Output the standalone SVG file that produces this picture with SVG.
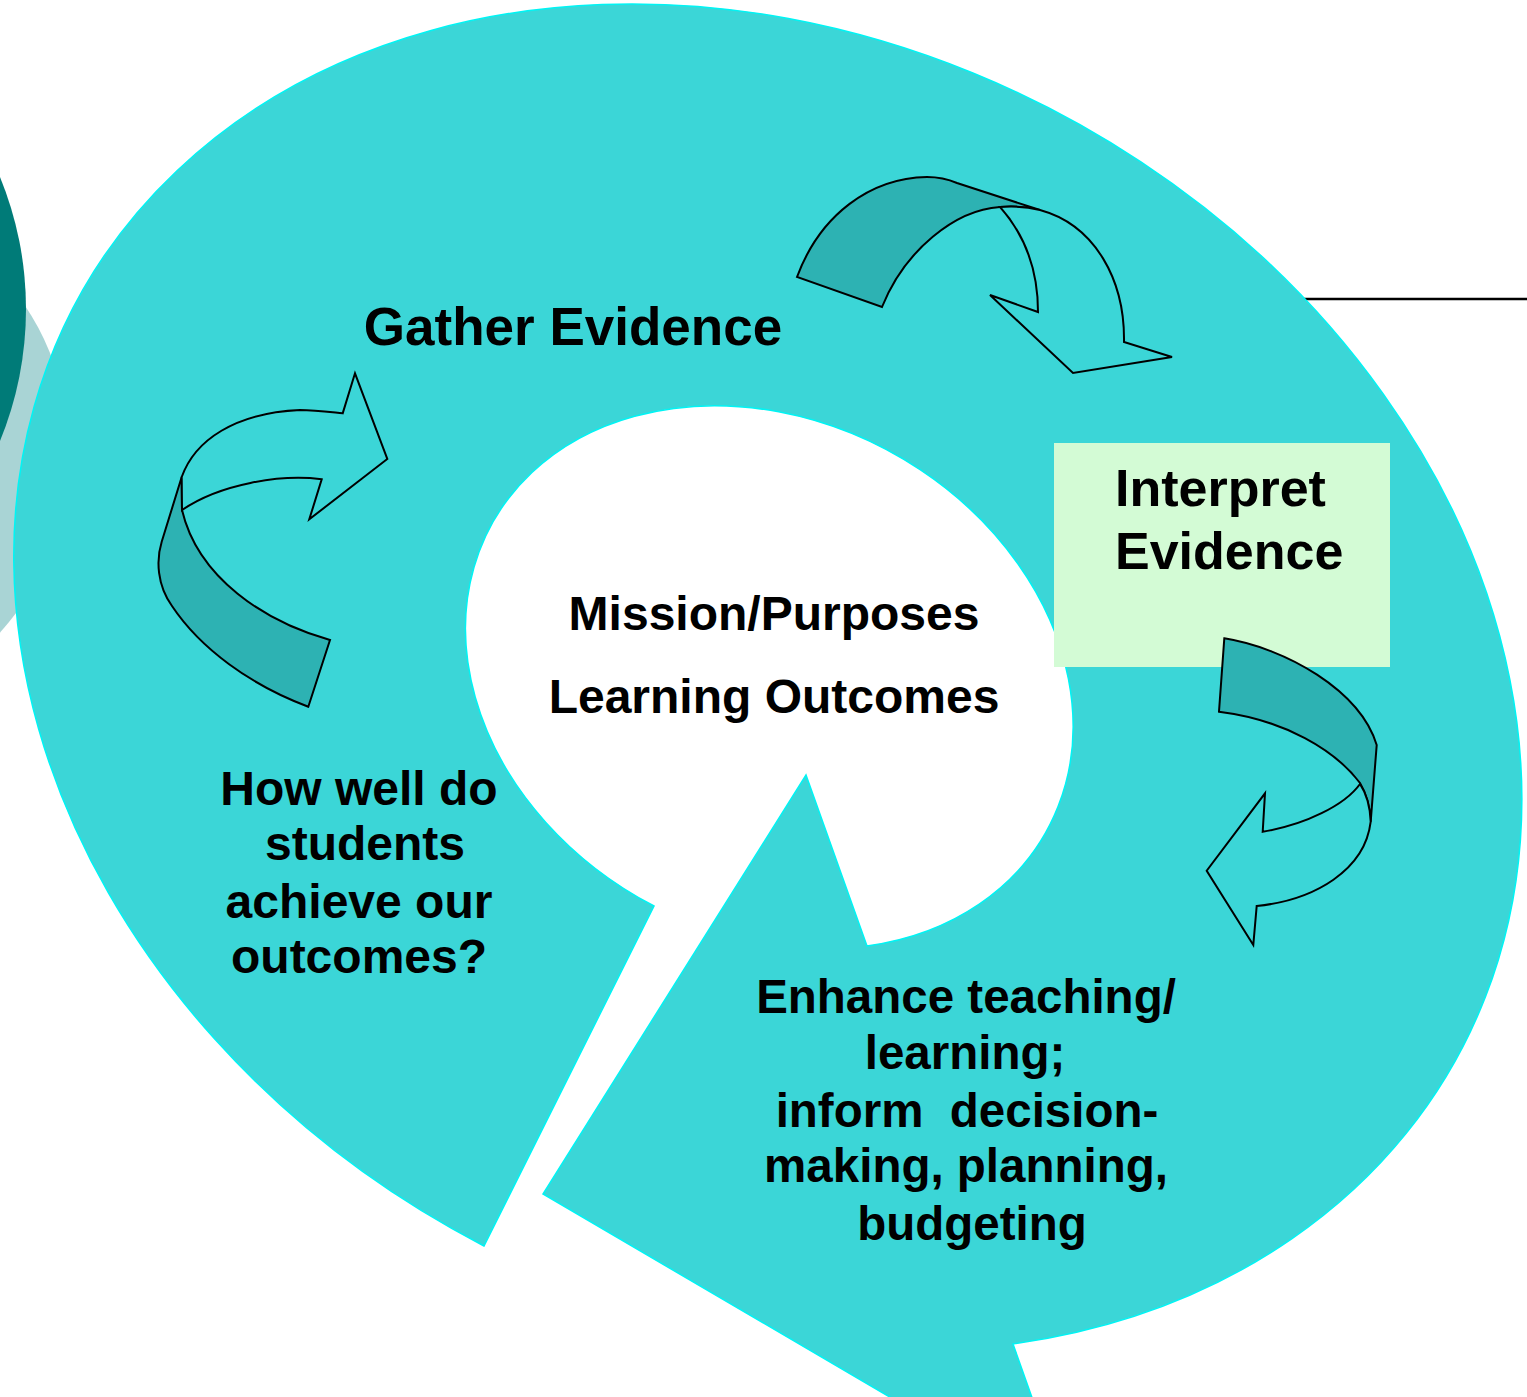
<svg xmlns="http://www.w3.org/2000/svg" width="1527" height="1397" viewBox="0 0 1527 1397">
<style>
  .lbl { font-family: "Liberation Sans", Arial, sans-serif; font-weight: bold; fill: #000; }
  .q { font-size: 48px; text-anchor: middle; }
  .e { font-size: 47.5px; text-anchor: middle; }
  .band { fill: #2db2b3; stroke: #000; stroke-width: 2; stroke-linejoin: miter; }
  .front { fill: #3bd6d7; stroke: #000; stroke-width: 2; stroke-linejoin: miter; }
</style>
<rect width="1527" height="1397" fill="#ffffff"/>
<g id="decor">
  <circle cx="-197" cy="453" r="266.5" fill="#a9d4d5"/>
  <circle cx="-322" cy="309" r="348" fill="#007b78"/>
  <line x1="1250" y1="299" x2="1527" y2="299" stroke="#000" stroke-width="2.5"/>
</g>
<g id="cycle">
  <path d="M484,1246 A787,635 29 1 1 1013,1344 L1069,1502 L543,1194 L806,775 L867,946 A317,256 29 1 0 654,906 Z" fill="#3bd6d7" stroke="#00f4f4" stroke-width="1.5" stroke-linejoin="miter"/>
</g>
<g id="interpret-box">
  <rect x="1054" y="443" width="336" height="224" fill="#d3fbd5"/>
  <text class="lbl" x="1115" y="506" font-size="52">Interpret</text>
  <text class="lbl" x="1115" y="569" font-size="52">Evidence</text>
</g>
<g id="connectors">
  <g id="arrow-top">
    <path class="band" d="M797,277 C820,215 870,178 927,177 C940,177 950,180 957,183 L1040,210 C1028,207 1013,206 1000,207 C955,210 905,250 882,307 Z"/>
    <path class="front" d="M1000,207 C1025,235 1038,270 1038,312 L990,295 L1073,373 L1172,357 L1124,342 C1125,280 1095,225 1040,210 C1028,207 1013,206 1000,207 Z"/>
  </g>
  <g id="arrow-left">
    <path class="band" d="M181.7,477 L161.7,541.7 C156,560 157,585 172,606 C200,648 250,685 308.3,706.7 L330,640 C265,622 198,578 182,510 Z"/>
    <path class="front" d="M181.7,477 C195,440 235,413 300,410 C315,410 330,412 342.7,413.3 L355,373.3 L387.3,459 L309.3,519.3 L321.7,479.3 C280,474 220,484 182,510 Z"/>
  </g>
  <g id="arrow-right">
    <path class="band" d="M1224.3,638.3 C1285,648 1360,690 1376.7,745 L1370.7,821.7 C1370,805 1366,793 1360,783 C1335,750 1285,720 1219,711.7 Z"/>
    <path class="front" d="M1360,784 C1345,805 1305,825 1262.7,831.7 L1265,793.3 L1206.7,870.7 L1253.3,945 L1256.7,906 C1315,900 1365,870 1370.7,821.7 C1370,805 1366,793 1360,784 Z"/>
  </g>
</g>
<g id="gather">
  <text class="lbl" x="573" y="345" font-size="53" text-anchor="middle">Gather Evidence</text>
</g>
<g id="center">
  <text class="lbl" x="774" y="630" font-size="48" text-anchor="middle">Mission/Purposes</text>
  <text class="lbl" x="774" y="713" font-size="48" text-anchor="middle">Learning Outcomes</text>
</g>
<g id="question">
  <text class="lbl q" x="359" y="805">How well do</text>
  <text class="lbl q" x="365" y="860">students</text>
  <text class="lbl q" x="359" y="918">achieve our</text>
  <text class="lbl q" x="359" y="973">outcomes?</text>
</g>
<g id="enhance">
  <text class="lbl e" x="966" y="1013">Enhance teaching/</text>
  <text class="lbl e" x="965" y="1069">learning;</text>
  <text class="lbl e" x="967" y="1127" xml:space="preserve">inform  decision-</text>
  <text class="lbl e" x="966" y="1182">making, planning,</text>
  <text class="lbl e" x="972" y="1240">budgeting</text>
</g>
</svg>
